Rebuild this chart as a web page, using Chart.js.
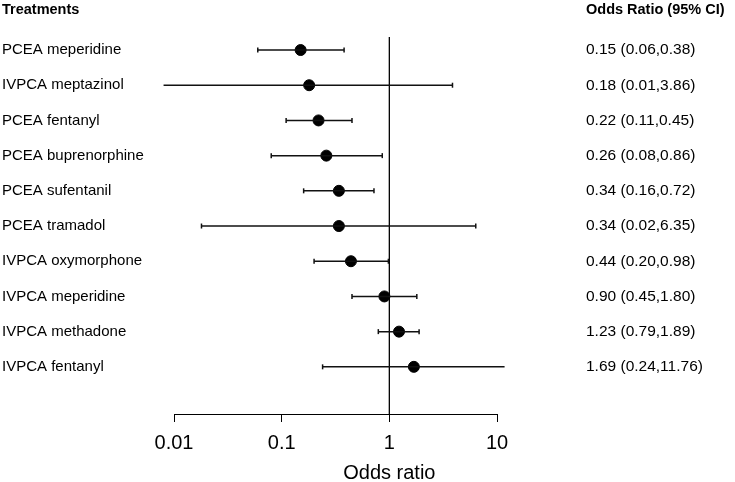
<!DOCTYPE html>
<html>
<head>
<meta charset="utf-8">
<script src="https://cdn.jsdelivr.net/npm/chart.js@4"></script>
<style>
  body { margin: 0; background: #fff; }
</style>
</head>
<body>
<canvas id="grafico" width="735" height="482"></canvas>
<script>
const tratamientos = ['PCEA meperidine', 'IVPCA meptazinol', 'PCEA fentanyl', 'PCEA buprenorphine',
  'PCEA sufentanil', 'PCEA tramadol', 'IVPCA oxymorphone', 'IVPCA meperidine',
  'IVPCA methadone', 'IVPCA fentanyl'];
const oddsRatio = [0.15, 0.18, 0.22, 0.26, 0.34, 0.34, 0.44, 0.90, 1.23, 1.69];
const ciBajo = [0.06, 0.008, 0.11, 0.08, 0.16, 0.018, 0.20, 0.45, 0.79, 0.24];
const ciAlto = [0.38, 3.86, 0.45, 0.86, 0.72, 6.35, 0.98, 1.80, 1.89, 11.76];
const ticksX = [0.01, 0.1, 1, 10];
const etiquetasX = ['0.01', '0.1', '1', '10'];

Chart.defaults.font.family = '"Liberation Sans", Arial, sans-serif';
Chart.defaults.color = '#000';

const filas = tratamientos.map((t, i) => i + 1);
const textoOR = oddsRatio.map((o, i) =>
  `${o.toFixed(2)} (${ciBajo[i].toFixed(2)},${ciAlto[i].toFixed(2)})`);

// lineas de IC, una por tratamiento
const barras = filas.map((y, i) => ({
  type: 'line',
  data: [{x: ciBajo[i], y}, {x: ciAlto[i], y}],
  borderColor: '#111',
  borderWidth: 1.5,
  pointStyle: 'line',
  rotation: 90,
  pointRadius: 2.5,
  pointBorderWidth: 1.5,
  pointBorderColor: '#111',
  clip: false
}));

const extras = {
  id: 'extras',
  beforeDatasetsDraw(chart){
    const {ctx, chartArea, scales} = chart;
    const x1 = scales.x.getPixelForValue(1);
    ctx.save();
    ctx.strokeStyle = '#000';
    ctx.lineWidth = 1.3;
    ctx.beginPath();
    ctx.moveTo(x1, chartArea.top);
    ctx.lineTo(x1, chartArea.bottom);
    ctx.stroke();
    ctx.restore();
  },
  afterDraw(chart){
    const {ctx, scales} = chart;
    ctx.save();
    ctx.fillStyle = '#000';
    ctx.textBaseline = 'middle';
    ctx.font = 'bold 14.5px "Liberation Sans", Arial, sans-serif';
    ctx.textAlign = 'left';
    ctx.fillText('Treatments', 2, 10);
    ctx.fillText('Odds Ratio (95% CI)', 586, 10);
    ctx.font = '20px "Liberation Sans", Arial, sans-serif';
    ctx.textAlign = 'center';
    ctx.fillText('Odds ratio', scales.x.getPixelForValue(1), 473);
    ctx.restore();
  }
};

const sinPadding = s => { s.paddingTop = 0; s.paddingBottom = 0; };

new Chart(document.getElementById('grafico'), {
  data: {
    datasets: [
      ...barras,
      {
        type: 'scatter',
        data: filas.map((y, i) => ({x: oddsRatio[i], y})),
        backgroundColor: '#000',
        borderColor: '#000',
        pointRadius: 5.5,
        clip: false
      }
    ]
  },
  options: {
    responsive: false,
    animation: false,
    layout: {padding: {top: 37, left: 2, right: 0, bottom: 0}},
    plugins: {legend: {display: false}, tooltip: {enabled: false}},
    scales: {
      x: {
        type: 'logarithmic',
        min: 0.01,
        max: 10,
        afterBuildTicks: s => { s.ticks = ticksX.map(v => ({value: v})); },
        afterFit: s => { s.height = 68; },
        ticks: {
          font: {size: 20},
          padding: 9,
          maxRotation: 0,
          autoSkip: false,
          callback: (v, i) => etiquetasX[i]
        },
        grid: {drawOnChartArea: false, drawTicks: true, tickLength: 8, color: '#000', lineWidth: 1},
        border: {display: true, color: '#000', width: 1}
      },
      y: {
        type: 'linear',
        position: 'left',
        reverse: true,
        min: 0.63,
        max: 11.34,
        afterBuildTicks: s => { s.ticks = filas.map(v => ({value: v})); },
        afterFit: s => { s.width = 172; sinPadding(s); },
        ticks: {
          font: {size: 15},
          crossAlign: 'far',
          callback: v => tratamientos[v - 1]
        },
        grid: {display: false},
        border: {display: false}
      },
      y2: {
        type: 'linear',
        position: 'right',
        reverse: true,
        min: 0.63,
        max: 11.34,
        afterBuildTicks: s => { s.ticks = filas.map(v => ({value: v})); },
        afterFit: s => { s.width = 238; sinPadding(s); },
        ticks: {
          font: {size: 15.5},
          padding: 81,
          crossAlign: 'near',
          callback: v => textoOR[v - 1]
        },
        grid: {display: false},
        border: {display: false}
      }
    }
  },
  plugins: [extras]
});
</script>
</body>
</html>
